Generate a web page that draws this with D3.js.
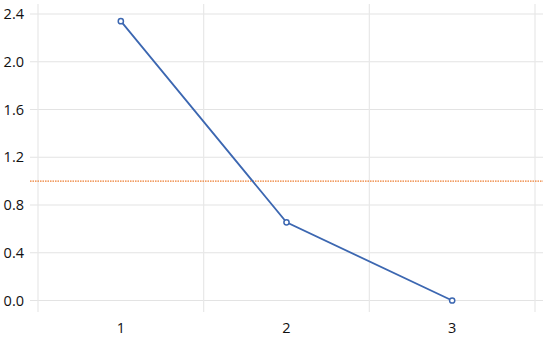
<!DOCTYPE html>
<html>
<head>
<meta charset="utf-8">
<script src="https://cdn.jsdelivr.net/npm/d3@7"></script>
<style>
  html, body { margin: 0; padding: 0; background: #fff; }
  svg { display: block; }
  text { font-family: "Open Sans", "Noto Sans", sans-serif; font-size: 14.5px; fill: #111; }
</style>
</head>
<body>
<div id="vis"></div>
<script>
// data
const categories = [1, 2, 3];
const values = [2.34, 0.655, 0.0];
const yTicks = [0.0, 0.4, 0.8, 1.2, 1.6, 2.0, 2.4];
const refValue = 1.0;

const _w = 550, _h = 338;
const svg = d3.select('#vis').append('svg')
    .attr('width', _w)
    .attr('height', _h);

// plot area
const pLeft = 38, pRight = 535, pTop = 4, pBottom = 300.5;

const x = d3.scaleBand()
    .domain(categories)
    .range([pLeft, pRight]);

const y = d3.scaleLinear()
    .domain([0, 2.4])
    .range([pBottom, 14]);

// horizontal grid lines (stick out a bit on both sides)
svg.append('g').selectAll('line')
  .data(yTicks)
  .join('line')
    .attr('x1', pLeft - 8)
    .attr('x2', pRight + 8)
    .attr('y1', d => y(d))
    .attr('y2', d => y(d))
    .attr('stroke', '#e3e3e3')
    .attr('stroke-width', 1.2);

// vertical grid lines at category edges
const edges = categories.map(c => x(c)).concat([x(categories[categories.length - 1]) + x.bandwidth()]);
svg.append('g').selectAll('line')
  .data(edges)
  .join('line')
    .attr('x1', d => d)
    .attr('x2', d => d)
    .attr('y1', pTop)
    .attr('y2', pBottom + 11.5)
    .attr('stroke', '#e8e8e8')
    .attr('stroke-width', 1.2);

// y labels
svg.append('g').selectAll('text')
  .data(yTicks)
  .join('text')
    .attr('x', 24)
    .attr('y', d => y(d))
    .attr('dy', '0.35em')
    .attr('text-anchor', 'end')
    .text(d => d.toFixed(1));

// x labels
svg.append('g').selectAll('text')
  .data(categories)
  .join('text')
    .attr('x', d => x(d) + x.bandwidth() / 2)
    .attr('y', 333)
    .attr('text-anchor', 'middle')
    .text(d => d);

// reference line
svg.append('line')
    .attr('x1', pLeft - 8)
    .attr('x2', pRight + 8)
    .attr('y1', y(refValue))
    .attr('y2', y(refValue))
    .attr('stroke', '#ed7d31')
    .attr('stroke-width', 1.3)
    .attr('stroke-dasharray', '1.5,1');

const pts = categories.map((c, i) => ({ c: c, v: values[i] }));

const line = d3.line()
    .x(d => x(d.c) + x.bandwidth() / 2)
    .y(d => y(d.v));

svg.append('path')
    .datum(pts)
    .attr('d', line)
    .attr('fill', 'none')
    .attr('stroke', '#3c67b1')
    .attr('stroke-width', 1.8);

svg.append('g').selectAll('circle')
  .data(pts)
  .join('circle')
    .attr('cx', d => x(d.c) + x.bandwidth() / 2)
    .attr('cy', d => y(d.v))
    .attr('r', 2.6)
    .attr('fill', '#fff')
    .attr('stroke', '#3c67b1')
    .attr('stroke-width', 1.5);
</script>
</body>
</html>
